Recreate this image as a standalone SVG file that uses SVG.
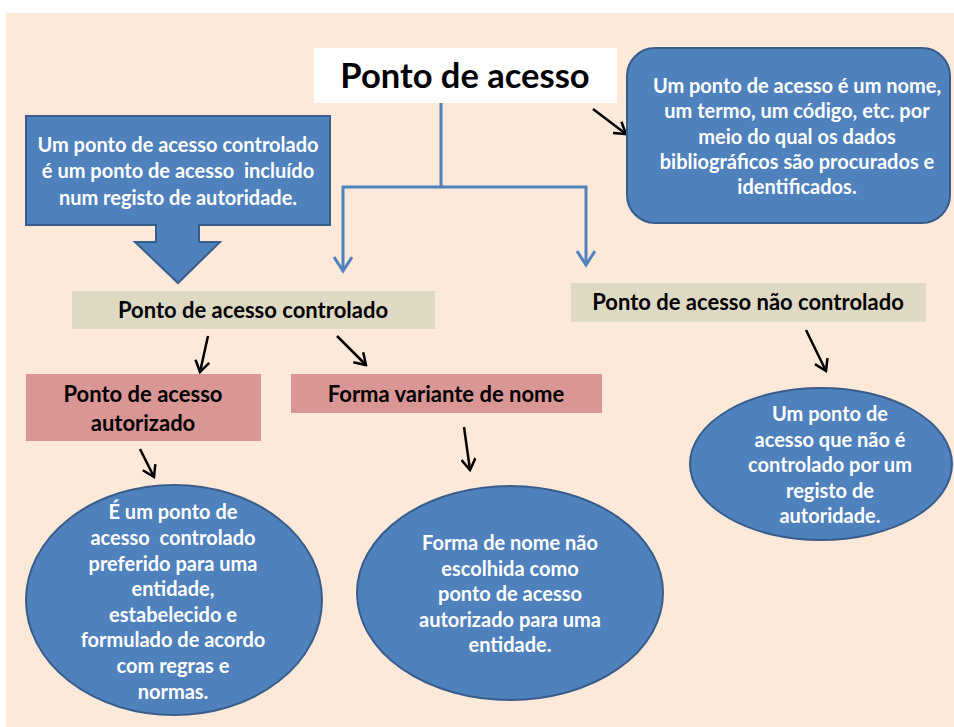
<svg xmlns="http://www.w3.org/2000/svg" width="954" height="727" viewBox="0 0 954 727">
<defs>
<style>
.t{font-family:Lato,"Open Sans","Liberation Sans",sans-serif;font-weight:bold;text-anchor:middle}
.w{fill:#ffffff;font-size:20px}
.k{fill:#000000;font-size:22px}
.blue{fill:#4f81bd;stroke:#385d8a;stroke-width:2}
.bl{fill:none;stroke:#4f81bd;stroke-width:3}
.ar{fill:none;stroke:#000000;stroke-width:2.5}
</style>
<marker id="bh" viewBox="0 0 20 20" refX="16" refY="10" markerWidth="20" markerHeight="20" markerUnits="userSpaceOnUse" orient="auto">
<path d="M2,1 L16,10 L2,19" fill="none" stroke="#4f81bd" stroke-width="3"/>
</marker>
<marker id="kh" viewBox="0 0 16 16" refX="14" refY="8" markerWidth="16" markerHeight="16" markerUnits="userSpaceOnUse" orient="auto">
<path d="M3,1 L14,8 L3,15" fill="none" stroke="#000000" stroke-width="2.5"/>
</marker>
</defs>
<rect x="0" y="0" width="954" height="727" fill="#ffffff"/>
<rect x="6" y="13" width="948" height="714" fill="#fde9d9"/>

<g id="connectors">
<path class="bl" d="M441,103 V187"/>
<path class="bl" d="M441,187 H343 V271" marker-end="url(#bh)"/>
<path class="bl" d="M441,187 H586 V265" marker-end="url(#bh)"/>
<line class="ar" x1="593" y1="109" x2="626" y2="134" marker-end="url(#kh)"/>
<line class="ar" x1="208" y1="336" x2="200" y2="372" marker-end="url(#kh)"/>
<line class="ar" x1="337" y1="336" x2="366" y2="365" marker-end="url(#kh)"/>
<line class="ar" x1="806" y1="330" x2="826" y2="371" marker-end="url(#kh)"/>
<line class="ar" x1="140" y1="449" x2="154" y2="477" marker-end="url(#kh)"/>
<line class="ar" x1="464" y1="427" x2="470" y2="470" marker-end="url(#kh)"/>
</g>

<g id="title">
<rect x="314" y="48" width="303" height="55" fill="#ffffff"/>
<text class="t" x="465" y="88" font-size="34.5" fill="#000000">Ponto de acesso</text>
</g>

<g id="definition">
<rect class="blue" x="627" y="48" width="323" height="175" rx="28"/>
<text class="t w" x="797" y="93">Um ponto de acesso é um nome,</text>
<text class="t w" x="797" y="118">um termo, um código, etc. por</text>
<text class="t w" x="797" y="144">meio do qual os dados</text>
<text class="t w" x="797" y="169">bibliográficos são procurados e</text>
<text class="t w" x="797" y="194">identificados.</text>
</g>

<g id="callout">
<path class="blue" d="M26,116 H330 V225 H199 V242 H220 L178,283 L135,242 H156 V225 H26 Z"/>
<text class="t w" x="178" y="152">Um ponto de acesso controlado</text>
<text class="t w" x="178" y="178" xml:space="preserve">é um ponto de acesso  incluído</text>
<text class="t w" x="178" y="205">num registo de autoridade.</text>
</g>

<g id="controlado">
<rect x="72" y="291" width="363" height="38" fill="#ddd9c3"/>
<text class="t k" x="253" y="318">Ponto de acesso controlado</text>
</g>

<g id="nao-controlado">
<rect x="571" y="283" width="355" height="39" fill="#ddd9c3"/>
<text class="t k" x="748" y="310">Ponto de acesso não controlado</text>
</g>

<g id="autorizado">
<rect x="26" y="374" width="235" height="67" fill="#d99694"/>
<text class="t k" x="143" y="402">Ponto de acesso</text>
<text class="t k" x="143" y="431">autorizado</text>
</g>

<g id="variante">
<rect x="291" y="374" width="311" height="39" fill="#d99694"/>
<text class="t k" x="446" y="402">Forma variante de nome</text>
</g>

<g id="def-autorizado">
<ellipse class="blue" cx="174" cy="600" rx="148" ry="115"/>
<text class="t w" x="173" y="519">É um ponto de</text>
<text class="t w" x="173" y="545" xml:space="preserve">acesso  controlado</text>
<text class="t w" x="173" y="571">preferido para uma</text>
<text class="t w" x="173" y="596">entidade,</text>
<text class="t w" x="173" y="622">estabelecido e</text>
<text class="t w" x="173" y="647">formulado de acordo</text>
<text class="t w" x="173" y="673">com regras e</text>
<text class="t w" x="173" y="699">normas.</text>
</g>

<g id="def-variante">
<ellipse class="blue" cx="510" cy="593" rx="153" ry="107"/>
<text class="t w" x="510" y="550">Forma de nome não</text>
<text class="t w" x="510" y="576">escolhida como</text>
<text class="t w" x="510" y="601">ponto de acesso</text>
<text class="t w" x="510" y="627">autorizado para uma</text>
<text class="t w" x="510" y="652">entidade.</text>
</g>

<g id="def-nao-controlado">
<ellipse class="blue" cx="821" cy="464" rx="131" ry="76"/>
<text class="t w" x="830" y="421">Um ponto de</text>
<text class="t w" x="830" y="447">acesso que não é</text>
<text class="t w" x="830" y="472">controlado por um</text>
<text class="t w" x="830" y="498">registo de</text>
<text class="t w" x="830" y="523">autoridade.</text>
</g>
</svg>
